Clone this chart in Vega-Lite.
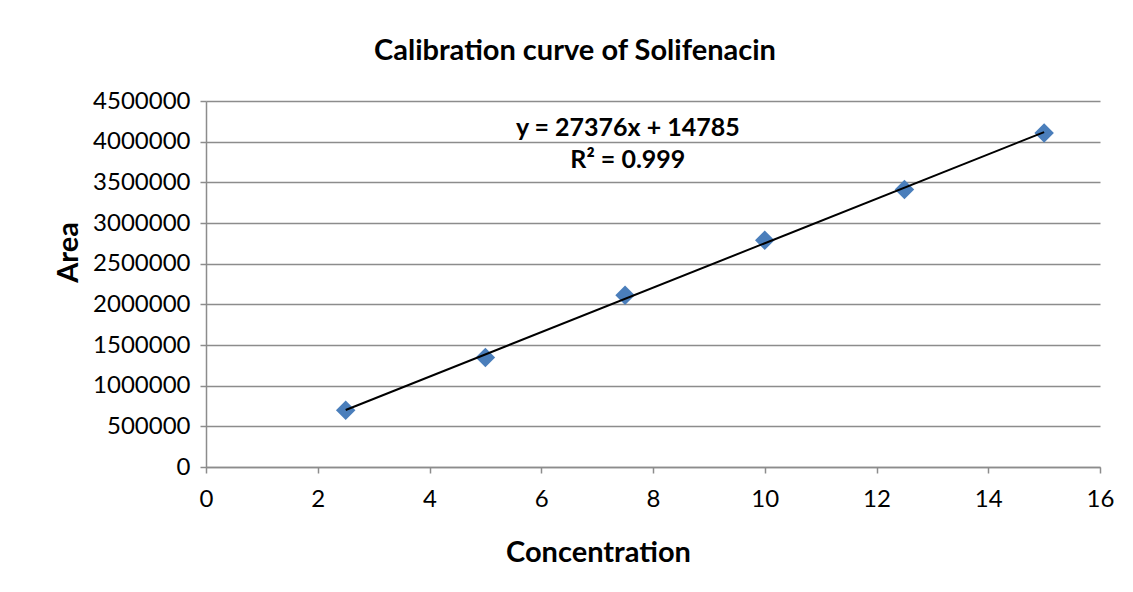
{
  "$schema": "https://vega.github.io/schema/vega-lite/v6.json",
  "autosize": {"type": "none"},
  "width": 894,
  "height": 366,
  "padding": {"left": 206, "top": 101, "right": 33, "bottom": 125},
  "background": "white",
  "config": {
    "font": "Lato",
    "view": {"stroke": null},
    "axis": {
      "labelFont": "Lato",
      "labelFontSize": 24,
      "labelColor": "#000000",
      "titleFont": "Lato",
      "titleColor": "#000000",
      "gridColor": "#8c8c8c",
      "gridWidth": 1.5,
      "domainColor": "#8c8c8c",
      "domainWidth": 1.5,
      "tickColor": "#8c8c8c",
      "tickWidth": 1.5,
      "tickSize": 6
    }
  },
  "title": {
    "text": "Calibration curve of Solifenacin",
    "font": "Lato",
    "fontSize": 29,
    "fontWeight": "bold",
    "color": "#000000",
    "anchor": "middle",
    "frame": "group",
    "dx": -78,
    "offset": 23
  },
  "datasets": {
    "points": [
      {"Concentration": 2.5, "Area": 697000},
      {"Concentration": 5, "Area": 1345000},
      {"Concentration": 7.5, "Area": 2111000},
      {"Concentration": 10, "Area": 2787000},
      {"Concentration": 12.5, "Area": 3411000},
      {"Concentration": 15, "Area": 4106000}
    ],
    "labels": [
      {"Concentration": 7.55, "Area": 4168000, "label": "y = 27376x + 14785"},
      {"Concentration": 7.55, "Area": 3775000, "label": "R² = 0.999"}
    ]
  },
  "layer": [
    {
      "data": {"name": "points"},
      "mark": {"type": "point", "shape": "diamond", "filled": true, "size": 380, "color": "#4a7ebb", "opacity": 1},
      "encoding": {
        "x": {
          "field": "Concentration", "type": "quantitative",
          "scale": {"domain": [0, 16], "nice": false},
          "axis": {
            "values": [0, 2, 4, 6, 8, 10, 12, 14, 16],
            "format": "d",
            "grid": false,
            "labelFlush": false,
            "labelPadding": 14,
            "title": "Concentration",
            "titleFontSize": 29,
            "titleFontWeight": "bold",
            "titleX": 392,
            "titleY": 85,
            "titleBaseline": "middle"
          }
        },
        "y": {
          "field": "Area", "type": "quantitative",
          "scale": {"domain": [0, 4500000], "nice": false},
          "axis": {
            "values": [0, 500000, 1000000, 1500000, 2000000, 2500000, 3000000, 3500000, 4000000, 4500000],
            "format": "d",
            "labelFlush": false,
            "labelPadding": 10,
            "title": "Area",
            "titleFontSize": 29,
            "titleFontWeight": "bold",
            "titleAngle": -90,
            "titleX": -138,
            "titleY": 151,
            "titleBaseline": "middle",
            "titleAlign": "center"
          }
        }
      }
    },
    {
      "data": {"name": "points"},
      "transform": [{"regression": "Area", "on": "Concentration", "method": "linear"}],
      "mark": {"type": "line", "color": "#000000", "strokeWidth": 2},
      "encoding": {
        "x": {"field": "Concentration", "type": "quantitative"},
        "y": {"field": "Area", "type": "quantitative"}
      }
    },
    {
      "data": {"name": "labels"},
      "mark": {"type": "text", "font": "Lato", "fontSize": 25, "fontWeight": "bold", "color": "#000000", "align": "center", "baseline": "middle"},
      "encoding": {
        "x": {"field": "Concentration", "type": "quantitative"},
        "y": {"field": "Area", "type": "quantitative"},
        "text": {"field": "label"}
      }
    }
  ]
}
